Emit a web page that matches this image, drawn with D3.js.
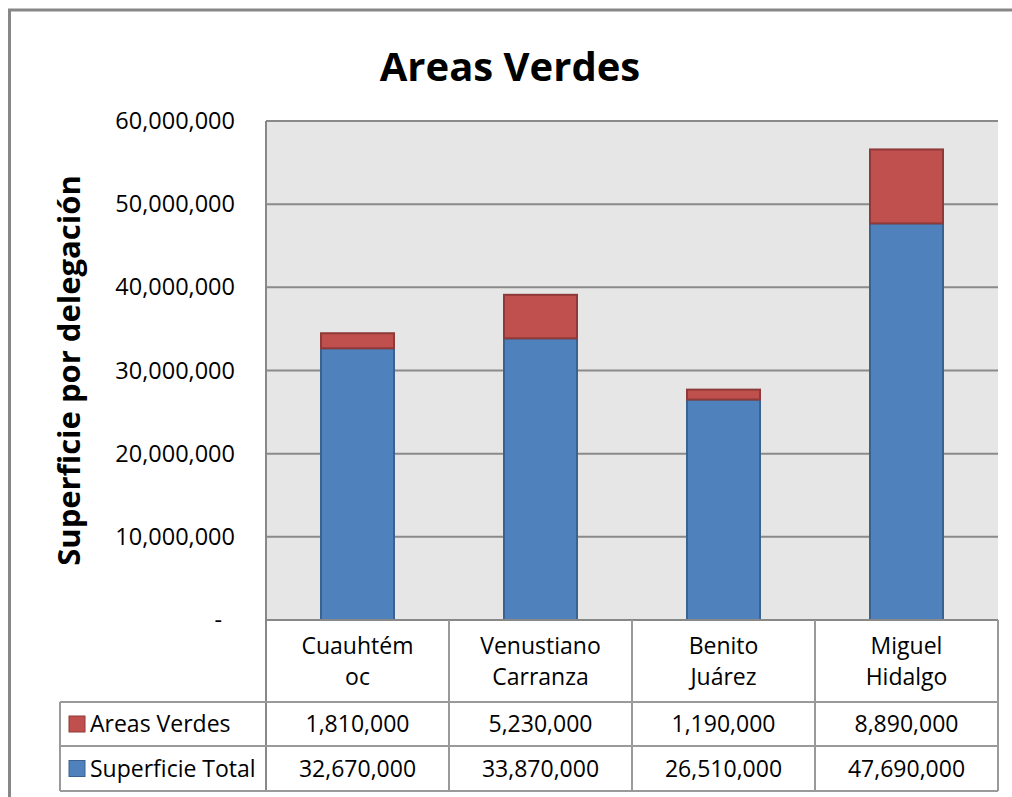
<!DOCTYPE html>
<html>
<head>
<meta charset="utf-8">
<script src="https://cdn.jsdelivr.net/npm/d3@7"></script>
<style>
  html, body { margin: 0; padding: 0; background: #fff; overflow: hidden; }
  svg { display: block; }
  text { font-family: "Open Sans", sans-serif; fill: #000; }
</style>
</head>
<body>
<div id="chart"></div>
<script>
var categories = ["Cuauhtémoc", "Venustiano Carranza", "Benito Juárez", "Miguel Hidalgo"];
// how the category names wrap in the table header
var categoryLines = [["Cuauhtém", "oc"], ["Venustiano", "Carranza"], ["Benito", "Juárez"], ["Miguel", "Hidalgo"]];
var seriesNames = ["Areas Verdes", "Superficie Total"];
var areasVerdes = [1810000, 5230000, 1190000, 8890000];
var superficieTotal = [32670000, 33870000, 26510000, 47690000];
var yTicks = [0, 10000000, 20000000, 30000000, 40000000, 50000000, 60000000];

var width = 1012, height = 797;
var plot = { left: 266, right: 998, top: 121, bottom: 620 };
var tableLeft = 60, rowY = [620, 702, 746, 791];

var blue = "#4f81bd", blueEdge = "#3a6290";
var red = "#c0504d", redEdge = "#8e3a38";
var gridColor = "#8a8a8a", lineColor = "#9a9a9a";

var svg = d3.select("#chart").append("svg")
    .attr("width", width)
    .attr("height", height);

// chart frame: only the top and left edges are inside the picture
svg.append("path")
    .attr("d", "M9.5," + height + "V10H" + width)
    .attr("fill", "none")
    .attr("stroke", "#878787")
    .attr("stroke-width", 3);

var x = d3.scaleBand()
    .domain(categories)
    .range([plot.left, plot.right])
    .padding(0);

var y = d3.scaleLinear()
    .domain([0, 60000000])
    .range([plot.bottom, plot.top]);

// plot background
svg.append("rect")
    .attr("x", plot.left).attr("y", plot.top)
    .attr("width", plot.right - plot.left)
    .attr("height", plot.bottom - plot.top)
    .attr("fill", "#e6e6e6");

// gridlines
svg.append("g")
    .selectAll("line")
    .data(yTicks.filter(function(d) { return d > 0; }))
    .enter().append("line")
    .attr("x1", plot.left).attr("x2", plot.right)
    .attr("y1", function(d) { return y(d); })
    .attr("y2", function(d) { return y(d); })
    .attr("stroke", gridColor)
    .attr("stroke-width", 2);

// y axis labels
var fmt = d3.format(",");
var yAxis = d3.axisLeft(y)
    .tickValues(yTicks)
    .tickSize(0)
    .tickPadding(31)
    .tickFormat(function(d) { return d === 0 ? "-" : fmt(d); });

var yg = svg.append("g")
    .attr("transform", "translate(" + plot.left + ",0)")
    .call(yAxis);
yg.select(".domain").remove();
yg.selectAll("text")
    .style("font-family", "Open Sans")
    .style("font-size", "23.5px")
    .attr("fill", "#000");
yg.selectAll(".tick").filter(function(d) { return d === 0; })
    .select("text").attr("dx", -13);

// stacked bars
var rows = categories.map(function(c, i) {
  return { cat: c, "Superficie Total": superficieTotal[i], "Areas Verdes": areasVerdes[i] };
});
var stack = d3.stack().keys(["Superficie Total", "Areas Verdes"]);
var layers = stack(rows);
var fills = { "Superficie Total": blue, "Areas Verdes": red };
var edges = { "Superficie Total": blueEdge, "Areas Verdes": redEdge };
var barW = 73;

svg.append("g")
    .selectAll("g")
    .data(layers)
    .enter().append("g")
    .attr("fill", function(d) { return fills[d.key]; })
    .attr("stroke", function(d) { return edges[d.key]; })
    .attr("stroke-width", 2)
    .selectAll("rect")
    .data(function(d) { return d; })
    .enter().append("rect")
    .attr("x", function(d) { return x(d.data.cat) + x.bandwidth() / 2 - barW / 2; })
    .attr("width", barW)
    .attr("y", function(d) { return y(d[1]); })
    .attr("height", function(d) { return y(d[0]) - y(d[1]); });

// table grid
var grid = svg.append("g")
    .attr("stroke", lineColor)
    .attr("stroke-width", 2);

grid.append("line")
    .attr("x1", plot.left).attr("x2", plot.left)
    .attr("y1", plot.top).attr("y2", rowY[3])
    .attr("stroke", "#888");
grid.append("line")
    .attr("x1", plot.left).attr("x2", plot.right)
    .attr("y1", plot.bottom).attr("y2", plot.bottom)
    .attr("stroke", "#888");

var colEdges = categories.map(function(c) { return x(c) + x.bandwidth(); });
grid.selectAll(".vcol")
    .data(colEdges)
    .enter().append("line")
    .attr("x1", function(d) { return d; }).attr("x2", function(d) { return d; })
    .attr("y1", plot.bottom).attr("y2", rowY[3]);

grid.selectAll(".hrow")
    .data(rowY.slice(1))
    .enter().append("line")
    .attr("x1", tableLeft).attr("x2", plot.right)
    .attr("y1", function(d) { return d; }).attr("y2", function(d) { return d; });

grid.append("line")
    .attr("x1", tableLeft).attr("x2", tableLeft)
    .attr("y1", rowY[1]).attr("y2", rowY[3]);

// header labels
var header = svg.append("g");
categories.forEach(function(c, i) {
  var t = header.append("text")
      .attr("x", x(c) + x.bandwidth() / 2)
      .attr("y", 654)
      .attr("text-anchor", "middle")
      .style("font-size", "23px");
  categoryLines[i].forEach(function(line, j) {
    t.append("tspan")
        .attr("x", x(c) + x.bandwidth() / 2)
        .attr("dy", j === 0 ? 0 : 31)
        .text(line);
  });
});

// data rows
var tableSeries = [
  { name: seriesNames[0], values: areasVerdes, color: red, edge: redEdge },
  { name: seriesNames[1], values: superficieTotal, color: blue, edge: blueEdge }
];
tableSeries.forEach(function(s, r) {
  var top = rowY[r + 1], bot = rowY[r + 2], mid = (top + bot) / 2;
  svg.append("rect")
      .attr("x", 69).attr("y", mid - 8)
      .attr("width", 16).attr("height", 16)
      .attr("fill", s.color)
      .attr("stroke", s.edge)
      .attr("stroke-width", 1);
  svg.append("text")
      .attr("x", 90).attr("y", mid + 8)
      .style("font-size", "23px")
      .text(s.name);
  svg.append("g").selectAll("text")
      .data(s.values)
      .enter().append("text")
      .attr("x", function(d, i) { return x(categories[i]) + x.bandwidth() / 2; })
      .attr("y", mid + 8)
      .attr("text-anchor", "middle")
      .style("font-size", "23px")
      .text(function(d) { return fmt(d); });
});

// titles
svg.append("text")
    .attr("x", 510).attr("y", 81)
    .attr("text-anchor", "middle")
    .style("font-size", "40px")
    .style("font-weight", "bold")
    .text("Areas Verdes");

svg.append("text")
    .attr("transform", "translate(80," + ((plot.top + plot.bottom) / 2) + ") rotate(-90)")
    .attr("text-anchor", "middle")
    .style("font-size", "31px")
    .style("font-weight", "bold")
    .text("Superficie por delegación");
</script>
</body>
</html>
